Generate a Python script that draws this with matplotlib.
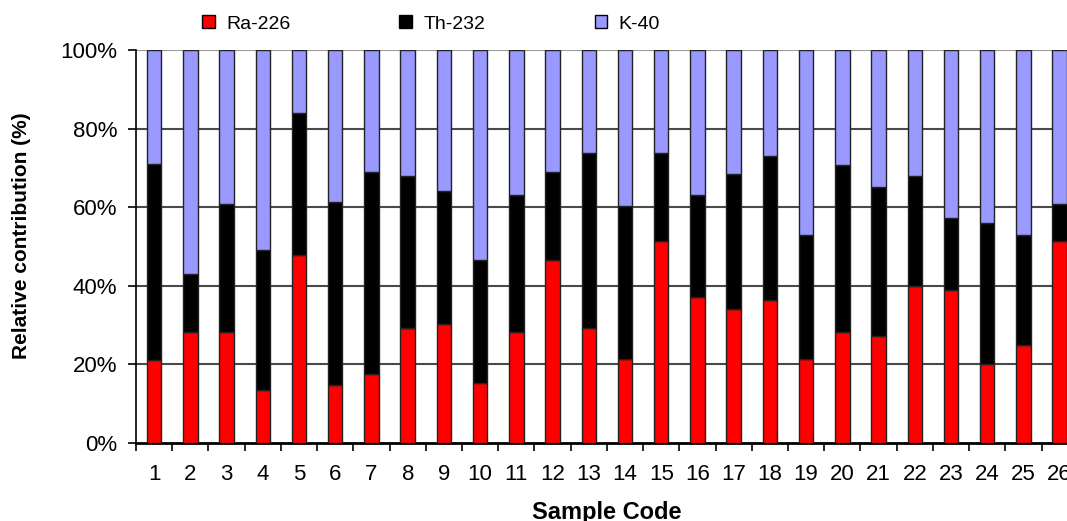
import matplotlib
matplotlib.use("Agg")
import matplotlib.pyplot as plt
import numpy as np
from matplotlib.patches import Patch

plt.rcParams['font.family'] = ['Liberation Sans', 'DejaVu Sans']

samples = [str(i) for i in range(1, 27)]
ra226 = [21.0, 28.2, 28.2, 13.5, 47.7, 14.6, 17.6, 29.2, 30.2, 15.2, 28.2, 46.4, 29.2,
         21.3, 51.4, 37.1, 34.0, 36.4, 21.3, 28.2, 27.2, 39.9, 38.8, 20.1, 24.9, 51.3]
ra_th_cum = [71.0, 42.9, 60.7, 49.1, 84.0, 61.3, 69.0, 67.9, 64.1, 46.4, 63.1, 69.0, 73.7,
             60.3, 73.7, 63.1, 68.5, 73.0, 52.8, 70.6, 65.1, 67.9, 57.3, 55.9, 52.8, 60.7]
th232 = [round(c - r, 1) for c, r in zip(ra_th_cum, ra226)]
k40 = [round(100 - c, 1) for c in ra_th_cum]
yticks = [0, 20, 40, 60, 80, 100]
ytick_labels = ['0%', '20%', '40%', '60%', '80%', '100%']

c_ra, c_th, c_k = '#FF0000', '#000000', '#9999FF'

fig = plt.figure(figsize=(10.67, 5.21), dpi=100)
ax = fig.add_axes([0.1275, 0.1503, 0.8826, 0.7537])

x = np.arange(len(samples))
w = 0.40
ra = np.array(ra226); th = np.array(th232); k = np.array(k40)
ax.bar(x, ra, w, color=c_ra, edgecolor='#222222', linewidth=1.0, zorder=3)
ax.bar(x, th, w, bottom=ra, color=c_th, edgecolor='#222222', linewidth=1.0, zorder=3)
ax.bar(x, k, w, bottom=ra + th, color=c_k, edgecolor='#222222', linewidth=1.0, zorder=3)

ax.set_xlim(-0.5, len(samples) - 0.5)
ax.set_ylim(0, 100)
ax.set_yticks(yticks)
ax.set_yticklabels(ytick_labels, fontsize=16)
for yv in yticks[1:]:
    ax.axhline(yv, color='#4a4a4a' if yv < 100 else '#9a9a9a', linewidth=1.5, zorder=1)

ax.set_xticks(x)
ax.set_xticklabels(samples, fontsize=16)
ax.set_xticks(np.arange(len(samples) + 1) - 0.5, minor=True)
ax.tick_params(axis='x', which='major', length=0, pad=15)
ax.tick_params(axis='x', which='minor', length=6, width=1.2, direction='out')
ax.tick_params(axis='y', length=6, width=1.2, direction='out', pad=7.5)

for s in ['top', 'right']:
    ax.spines[s].set_visible(False)
ax.spines['left'].set_linewidth(1.2)
ax.spines['bottom'].set_linewidth(2.0)

handles = [Patch(facecolor=c_ra, edgecolor='black', label='Ra-226'),
           Patch(facecolor=c_th, edgecolor='black', label='Th-232'),
           Patch(facecolor=c_k, edgecolor='black', label='K-40')]
fig.legend(handles=handles, loc='center left', bbox_to_anchor=(202 / 1067, 1 - 24 / 521),
           ncol=3, frameon=False, fontsize=14, handlelength=0.65, handleheight=0.65,
           handletextpad=0.6, columnspacing=5.6, borderpad=0, borderaxespad=0)

fig.text(22 / 1067, 0.547, 'Relative contribution (%)', rotation=90, ha='center',
         va='center', fontsize=15, fontweight='bold')
fig.text(607 / 1067, 1 - 512 / 521, 'Sample Code', ha='center', va='center',
         fontsize=17, fontweight='bold')

fig.savefig('out.png', dpi=100)
